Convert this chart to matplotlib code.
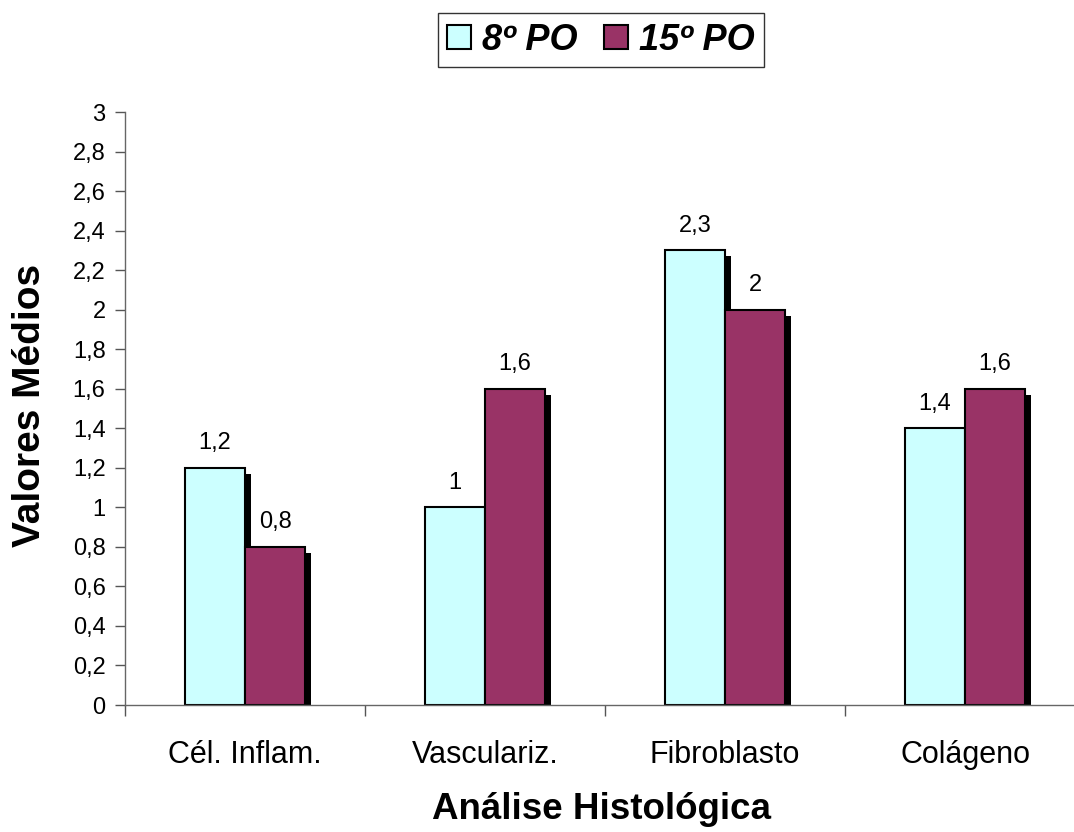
import matplotlib
matplotlib.use("Agg")
import matplotlib.pyplot as plt
from matplotlib.patches import Patch
import numpy as np

plt.rcParams['font.family'] = ['Liberation Sans', 'DejaVu Sans']

categories = ["Cél. Inflam.", "Vasculariz.", "Fibroblasto", "Colágeno"]
series_names = ["8º PO", "15º PO"]
po8 = [1.2, 1.0, 2.3, 1.4]
po15 = [0.8, 1.6, 2.0, 1.6]
value_labels_8 = ["1,2", "1", "2,3", "1,4"]
value_labels_15 = ["0,8", "1,6", "2", "1,6"]
yticks = [0, 0.2, 0.4, 0.6, 0.8, 1, 1.2, 1.4, 1.6, 1.8, 2, 2.2, 2.4, 2.6, 2.8, 3]

colors = ["#CCFFFF", "#993366"]

fig = plt.figure(figsize=(10.74, 8.32), dpi=100)
W, H = 1074, 832
ax = fig.add_axes([125 / W, 1 - 705 / H, 960 / W, (705 - 112) / H])

x = np.arange(len(categories))
bw = 0.25
# drop-shadow offsets (data units)
sdx, sdy = 0.025, 0.03

for vals, offs, col, labels in [(po8, -bw / 2, colors[0], value_labels_8),
                                (po15, bw / 2, colors[1], value_labels_15)]:
    vals = np.array(vals)
    ax.bar(x + offs + sdx, vals - sdy, bw, color="black", zorder=1)
    ax.bar(x + offs, vals, bw, color=col, edgecolor="black", linewidth=1.5, zorder=2)
    for xi, v, t in zip(x + offs, vals, labels):
        ax.annotate(t, (xi, v), xytext=(0, 13.5), textcoords="offset points",
                    ha="center", va="baseline", fontsize=17)

ax.set_xlim(-0.5, len(categories) - 0.5)
ax.set_ylim(0, 3)
ax.set_yticks(yticks)
ax.set_yticklabels([("%g" % t).replace(".", ",") for t in yticks], fontsize=17)
ax.set_xticks(x)
ax.set_xticklabels(categories, fontsize=22)
ax.set_xticks(np.arange(len(categories) + 1) - 0.5, minor=True)
ax.tick_params(axis="x", which="major", length=0, pad=25)
ax.tick_params(axis="x", which="minor", length=8, width=1, color="#555555", direction="out")
ax.tick_params(axis="y", length=7, width=1, color="#555555", pad=7)

for s in ["top", "right"]:
    ax.spines[s].set_visible(False)
for s in ["left", "bottom"]:
    ax.spines[s].set_color("#666666")
    ax.spines[s].set_linewidth(1)

fig.text(30 / W, 1 - 405 / H, "Valores Médios", rotation=90, ha="center", va="center",
         fontsize=28, fontweight="bold")
fig.text(602 / W, 1 - 819 / H, "Análise Histológica", ha="center", va="baseline",
         fontsize=26.5, fontweight="bold")

handles = [Patch(facecolor=c, edgecolor="black", linewidth=1.5) for c in colors]
leg = fig.legend(handles, series_names, loc="center", bbox_to_anchor=(601 / W, 1 - 40 / H),
                 ncol=2, frameon=True, fancybox=False, edgecolor="black",
                 prop={"weight": "bold", "style": "italic", "size": 26},
                 handlelength=0.65, handleheight=0.65, handletextpad=0.3, columnspacing=0.75,
                 borderpad=0.25)
leg.get_frame().set_linewidth(1)

fig.savefig("out.png", dpi=100)
